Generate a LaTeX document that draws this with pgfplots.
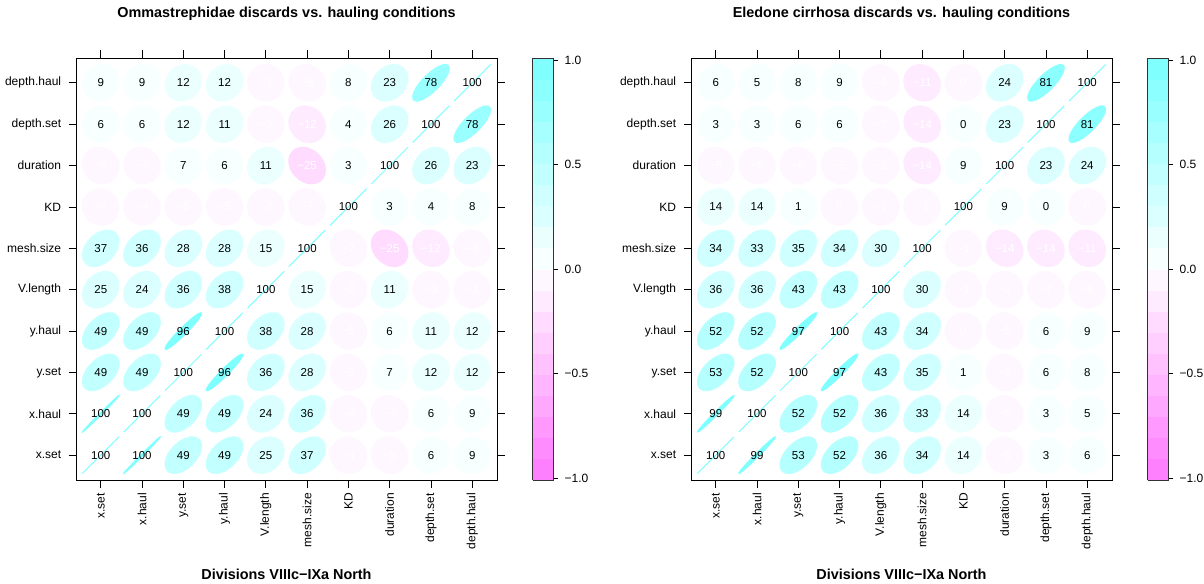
\documentclass[border=0pt]{standalone}
\usepackage{pgfplots}
\pgfplotsset{compat=1.18}
\usepackage{pgfplotstable}
\usepackage{fontspec}
\setmainfont{Liberation Sans}

\protected\def\W#1{{\color{white}#1}}

\pgfdeclareplotmark{correll}{%
  \pgfmathsetmacro\ea{18.37*sqrt(1+(\rval))*0.70711}%
  \pgfmathsetmacro\eb{18.37*sqrt(max(1-(\rval),0))*0.70711}%
  \pgfpathellipse{\pgfpointorigin}{\pgfpoint{\ea pt}{\ea pt}}{\pgfpoint{-\eb pt}{\eb pt}}%
  \pgfusepathqfillstroke
}
\pgfdeclareplotmark{nomark}{}

\pgfplotsset{
  colormap={corr}{rgb255=(255,128,255) rgb255=(255,140,255) rgb255=(255,153,255)
    rgb255=(255,168,255) rgb255=(255,181,255) rgb255=(255,194,255) rgb255=(255,207,255)
    rgb255=(255,219,255) rgb255=(255,235,255) rgb255=(255,247,255) rgb255=(247,255,255)
    rgb255=(235,255,255) rgb255=(219,255,255) rgb255=(207,255,255) rgb255=(194,255,255)
    rgb255=(181,255,255) rgb255=(168,255,255) rgb255=(153,255,255) rgb255=(140,255,255)
    rgb255=(128,255,255)},
  corrax/.style={
    scale only axis, width=421bp, height=422bp,
    xmin=0.4, xmax=10.6, ymin=0.4, ymax=10.6,
    xtick={1,...,10}, ytick={1,...,10},
    xticklabels={x.set,x.haul,y.set,y.haul,V.length,mesh.size,KD,duration,depth.set,depth.haul},
    yticklabels={x.set,x.haul,y.set,y.haul,V.length,mesh.size,KD,duration,depth.set,depth.haul},
    tick align=outside, major tick length=7.5bp,
    tick style={black, line width=0.8bp},
    axis line style={black, line width=0.8bp},
    tick label style={font=\fontsize{12bp}{14bp}\selectfont},
    yticklabel style={anchor=east, inner sep=0pt},
    yticklabel shift=7.2bp,
    xticklabel style={rotate=90, anchor=east, inner sep=0pt},
    xticklabel shift=5.5bp,
    title style={at={(axis description cs:0.5,1)}, anchor=base, yshift=34.8bp,
      font=\fontsize{14.4bp}{17bp}\selectfont\bfseries},
    xlabel={Divisions VIIIc−IXa North},
    xlabel style={at={(axis description cs:0.5,0)}, anchor=base, yshift=-99.5bp,
      font=\fontsize{14.4bp}{17bp}\selectfont\bfseries},
    colormap name=corr, colormap access=piecewise constant,
    point meta min=-1.01, point meta max=1.01,
    colorbar,
    colorbar style={
      at={(parent axis.north east)}, anchor=north west, xshift=27.3bp,
      scale only axis, width=20.7bp, height=422bp,
      ytick={-1,-0.5,0,0.5,1},
      yticklabels={−1.0,−0.5,0.0,0.5,1.0},
      tick align=outside, major tick length=4.5bp,
      ytick pos=right, yticklabel pos=right,
      tick style={black, line width=0.8bp},
      axis line style={black!80, line width=0.8bp},
      yticklabel style={font=\fontsize{12bp}{14bp}\selectfont, anchor=west, inner sep=0pt},
      yticklabel shift=6.5bp,
    },
  },
  ellplot/.style={
    scatter, only marks, mark=correll,
    point meta=explicit,
    scatter/use mapped color={draw=mapped color, fill=mapped color},
    scatter/@pre marker code/.append code={%
      \pgfmathsetmacro\rval{-1.01+2.02*\pgfplotspointmetatransformed/1000}},
    mark options={line width=1bp},
  },
  labplot/.style={
    only marks, mark=nomark,
    point meta=explicit symbolic,
    nodes near coords,
    nodes near coords align=center,
    every node near coord/.append style={font=\fontsize{11.5bp}{13bp}\selectfont, inner sep=0pt, text=black},
  },
}

% Ommastrephidae: x = column variable, y = row variable
\pgfplotstableread{
x y r lab
1 1 1 100
2 1 0.997 100
3 1 0.49 49
4 1 0.49 49
5 1 0.25 25
6 1 0.37 37
7 1 -0.04 \W{−4}
8 1 -0.08 \W{−8}
9 1 0.06 6
10 1 0.09 9
1 2 0.997 100
2 2 1 100
3 2 0.49 49
4 2 0.49 49
5 2 0.24 24
6 2 0.36 36
7 2 -0.04 \W{−4}
8 2 -0.07 \W{−7}
9 2 0.06 6
10 2 0.09 9
1 3 0.49 49
2 3 0.49 49
3 3 1 100
4 3 0.96 96
5 3 0.36 36
6 3 0.28 28
7 3 -0.05 \W{−5}
8 3 0.07 7
9 3 0.12 12
10 3 0.12 12
1 4 0.49 49
2 4 0.49 49
3 4 0.96 96
4 4 1 100
5 4 0.38 38
6 4 0.28 28
7 4 -0.05 \W{−5}
8 4 0.06 6
9 4 0.11 11
10 4 0.12 12
1 5 0.25 25
2 5 0.24 24
3 5 0.36 36
4 5 0.38 38
5 5 1 100
6 5 0.15 15
7 5 -0.02 \W{−2}
8 5 0.11 11
9 5 -0.03 \W{−3}
10 5 -0.01 \W{−1}
1 6 0.37 37
2 6 0.36 36
3 6 0.28 28
4 6 0.28 28
5 6 0.15 15
6 6 1 100
7 6 -0.07 \W{−7}
8 6 -0.25 \W{−25}
9 6 -0.12 \W{−12}
10 6 -0.08 \W{−8}
1 7 -0.04 \W{−4}
2 7 -0.04 \W{−4}
3 7 -0.05 \W{−5}
4 7 -0.05 \W{−5}
5 7 -0.02 \W{−2}
6 7 -0.07 \W{−7}
7 7 1 100
8 7 0.03 3
9 7 0.04 4
10 7 0.08 8
1 8 -0.08 \W{−8}
2 8 -0.07 \W{−7}
3 8 0.07 7
4 8 0.06 6
5 8 0.11 11
6 8 -0.25 \W{−25}
7 8 0.03 3
8 8 1 100
9 8 0.26 26
10 8 0.23 23
1 9 0.06 6
2 9 0.06 6
3 9 0.12 12
4 9 0.11 11
5 9 -0.03 \W{−3}
6 9 -0.12 \W{−12}
7 9 0.04 4
8 9 0.26 26
9 9 1 100
10 9 0.78 78
1 10 0.09 9
2 10 0.09 9
3 10 0.12 12
4 10 0.12 12
5 10 -0.01 \W{−1}
6 10 -0.08 \W{−8}
7 10 0.08 8
8 10 0.23 23
9 10 0.78 78
10 10 1 100
}\tabA

% Eledone cirrhosa
\pgfplotstableread{
x y r lab
1 1 1 100
2 1 0.99 99
3 1 0.53 53
4 1 0.52 52
5 1 0.36 36
6 1 0.34 34
7 1 0.14 14
8 1 -0.05 \W{−5}
9 1 0.03 3
10 1 0.06 6
1 2 0.99 99
2 2 1 100
3 2 0.52 52
4 2 0.52 52
5 2 0.36 36
6 2 0.33 33
7 2 0.14 14
8 2 -0.05 \W{−5}
9 2 0.03 3
10 2 0.05 5
1 3 0.53 53
2 3 0.52 52
3 3 1 100
4 3 0.97 97
5 3 0.43 43
6 3 0.35 35
7 3 0.01 1
8 3 -0.06 \W{−6}
9 3 0.06 6
10 3 0.08 8
1 4 0.52 52
2 4 0.52 52
3 4 0.97 97
4 4 1 100
5 4 0.43 43
6 4 0.34 34
7 4 -0.003 \W{0}
8 4 -0.05 \W{−5}
9 4 0.06 6
10 4 0.09 9
1 5 0.36 36
2 5 0.36 36
3 5 0.43 43
4 5 0.43 43
5 5 1 100
6 5 0.30 30
7 5 -0.01 \W{−1}
8 5 -0.01 \W{−1}
9 5 -0.07 \W{−7}
10 5 -0.06 \W{−6}
1 6 0.34 34
2 6 0.33 33
3 6 0.35 35
4 6 0.34 34
5 6 0.30 30
6 6 1 100
7 6 -0.01 \W{−1}
8 6 -0.14 \W{−14}
9 6 -0.14 \W{−14}
10 6 -0.11 \W{−11}
1 7 0.14 14
2 7 0.14 14
3 7 0.01 1
4 7 -0.003 \W{0}
5 7 -0.01 \W{−1}
6 7 -0.01 \W{−1}
7 7 1 100
8 7 0.09 9
9 7 0.003 0
10 7 -0.003 \W{0}
1 8 -0.05 \W{−5}
2 8 -0.05 \W{−5}
3 8 -0.06 \W{−6}
4 8 -0.05 \W{−5}
5 8 -0.01 \W{−1}
6 8 -0.14 \W{−14}
7 8 0.09 9
8 8 1 100
9 8 0.23 23
10 8 0.24 24
1 9 0.03 3
2 9 0.03 3
3 9 0.06 6
4 9 0.06 6
5 9 -0.07 \W{−7}
6 9 -0.14 \W{−14}
7 9 0.003 0
8 9 0.23 23
9 9 1 100
10 9 0.81 81
1 10 0.06 6
2 10 0.05 5
3 10 0.08 8
4 10 0.09 9
5 10 -0.06 \W{−6}
6 10 -0.11 \W{−11}
7 10 -0.003 \W{0}
8 10 0.24 24
9 10 0.81 81
10 10 1 100
}\tabB

\begin{document}
\begin{tikzpicture}
\useasboundingbox (0,0) rectangle (1204bp,584bp);
\begin{axis}[corrax, at={(76bp,104bp)}, anchor=south west,
  title={Ommastrephidae discards vs. hauling conditions}]
\addplot[ellplot] table[x=x, y=y, meta=r] {\tabA};
\addplot[labplot] table[x=x, y=y, meta=lab] {\tabA};
\end{axis}
\begin{axis}[corrax, at={(691bp,104bp)}, anchor=south west,
  title={Eledone cirrhosa discards vs. hauling conditions}]
\addplot[ellplot] table[x=x, y=y, meta=r] {\tabB};
\addplot[labplot] table[x=x, y=y, meta=lab] {\tabB};
\end{axis}
\end{tikzpicture}
\end{document}
